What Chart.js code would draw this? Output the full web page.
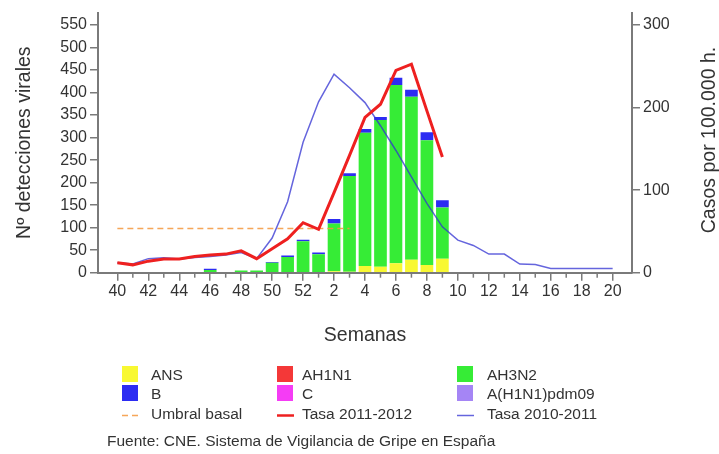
<!DOCTYPE html>
<html>
<head>
<meta charset="utf-8">
<script src="https://cdn.jsdelivr.net/npm/chart.js@4.4.1/dist/chart.umd.min.js"></script>
<style>
  body { margin: 0; background: #fff; }
  canvas { display: block; }
</style>
</head>
<body>
<canvas id="chart" width="719" height="454"></canvas>
<script>
// semanas 40..52 (2011) y 1..20 (2012)
const weeks = [40, 41, 42, 43, 44, 45, 46, 47, 48, 49, 50, 51, 52,
  1, 2, 3, 4, 5, 6, 7, 8, 9, 10, 11, 12, 13, 14, 15, 16, 17, 18, 19, 20];

// detecciones virales (eje izquierdo)
const ans = [0, 0, 0, 0, 0, 0, 0, 0, 0, 0, 0, 0, 0, 0, 3, 2, 15, 13, 21, 29, 17, 31,
  0, 0, 0, 0, 0, 0, 0, 0, 0, 0, 0];
const ah1n1 = [0, 0, 0, 0, 0, 0, 0, 0, 0, 0, 0, 0, 0, 0, 0, 0, 0, 0, 0, 0, 0, 0,
  0, 0, 0, 0, 0, 0, 0, 0, 0, 0, 0];
const ah3n2 = [0, 0, 0, 0, 0, 0, 6, 0, 5, 5, 22, 35, 70, 41, 106, 213, 296, 326, 396, 362, 277, 114,
  0, 0, 0, 0, 0, 0, 0, 0, 0, 0, 0];
const c = [0, 0, 0, 0, 0, 0, 0, 0, 0, 0, 0, 0, 0, 0, 0, 0, 0, 0, 0, 0, 0, 0,
  0, 0, 0, 0, 0, 0, 0, 0, 0, 0, 0];
const pdm09 = [0, 0, 0, 0, 0, 0, 0, 0, 0, 0, 0, 0, 0, 0, 0, 0, 0, 0, 0, 0, 0, 0,
  0, 0, 0, 0, 0, 0, 0, 0, 0, 0, 0];
const b = [0, 0, 0, 0, 0, 0, 3, 0, 0, 0, 2, 3, 3, 4, 10, 6, 8, 7, 16, 15, 18, 16,
  0, 0, 0, 0, 0, 0, 0, 0, 0, 0, 0];

// tasas por 100.000 h. (eje derecho)
const tasa1112 = [12, 9.5, 14, 16.5, 16.5, 19.5, 21.5, 22.5, 26.5, 17, 29, 41, 60.5, 52.5,
  97, 142, 188, 204, 245, 252.5, 196, 140];
const tasa1011 = [12, 10.5, 17, 18, 16.5, 18.5, 19.5, 21.5, 24.5, 17, 42, 86, 158, 207,
  240.5, 224, 206, 178, 148, 116, 84, 55.5, 39.5, 33, 22.5, 22.5, 10.5, 10, 5, 5, 5, 5, 5];
const umbral = [53.5, 53.5, 53.5, 53.5, 53.5, 53.5, 53.5, 53.5, 53.5, 53.5, 53.5, 53.5,
  53.5, 53.5, 53.5, 53.5];

const leftTicks = [0, 50, 100, 150, 200, 250, 300, 350, 400, 450, 500, 550];
const rightTicks = [0, 100, 200, 300];

const FONT = '"Liberation Sans", Arial, sans-serif';
const TEXT = "#333";
const AXIS = "#7a7a7a";

const xy = (arr) => arr.map((v, i) => ({ x: i, y: v }));

// legend is a 3x3 grid, drawn by hand
const legendGrid = [
  ["ANS", "AH1N1", "AH3N2"],
  ["B", "C", "A(H1N1)pdm09"],
  ["Umbral basal", "Tasa 2011-2012", "Tasa 2010-2011"],
];
const legendBoxX = [122, 277, 457];
const legendTextX = [151, 302, 487];
const legendRowY = [374, 393, 413];

const extras = {
  id: "extras",
  afterDraw(chart) {
    const ctx = chart.ctx;
    const xs = chart.scales.x;
    const bottom = chart.chartArea.bottom;
    ctx.save();

    // short ticks for odd weeks
    ctx.strokeStyle = AXIS;
    ctx.lineWidth = 1.5;
    weeks.forEach((w, i) => {
      if (i % 2 === 1) {
        const px = xs.getPixelForValue(i);
        ctx.beginPath();
        ctx.moveTo(px, bottom);
        ctx.lineTo(px, bottom + 5);
        ctx.stroke();
      }
    });

    // right axis title (reads bottom to top)
    ctx.fillStyle = TEXT;
    ctx.font = `19.5px ${FONT}`;
    ctx.textAlign = "center";
    ctx.textBaseline = "middle";
    ctx.save();
    ctx.translate(710, 140);
    ctx.rotate(-Math.PI / 2);
    ctx.fillText("Casos por 100.000 h.", 0, 0);
    ctx.restore();

    // legend
    ctx.font = `15.5px ${FONT}`;
    ctx.textAlign = "left";
    legendGrid.forEach((row, r) => {
      row.forEach((label, col) => {
        const ds = chart.data.datasets.find((d) => d.label === label);
        const x = legendBoxX[col];
        const y = legendRowY[r];
        if (ds.type === "line") {
          ctx.strokeStyle = ds.borderColor;
          ctx.lineWidth = Math.min(ds.borderWidth, 2.5);
          ctx.setLineDash(ds.borderDash || []);
          ctx.beginPath();
          ctx.moveTo(x, y + 2.5);
          ctx.lineTo(x + 17, y + 2.5);
          ctx.stroke();
          ctx.setLineDash([]);
        } else {
          ctx.fillStyle = ds.backgroundColor;
          ctx.fillRect(x, y - 8, 16, 16);
        }
        ctx.fillStyle = TEXT;
        ctx.fillText(label, legendTextX[col], y + 2);
      });
    });

    // source
    ctx.fillText("Fuente: CNE. Sistema de Vigilancia de Gripe en España", 107, 442);
    ctx.restore();
  },
};

const barSet = (label, values, color) => ({
  type: "bar",
  label: label,
  data: xy(values),
  backgroundColor: color,
  borderWidth: 0,
  yAxisID: "y",
  stack: "virus",
  order: 2,
  barPercentage: 0.82,
  categoryPercentage: 1,
});

const config = {
  type: "bar",
  data: {
    datasets: [
      {
        type: "line",
        label: "Tasa 2011-2012",
        data: xy(tasa1112),
        borderColor: "#ee2020",
        borderWidth: 3,
        pointRadius: 0,
        tension: 0,
        yAxisID: "y1",
        order: 0,
      },
      {
        type: "line",
        label: "Tasa 2010-2011",
        data: xy(tasa1011),
        borderColor: "rgba(50, 50, 210, 0.75)",
        borderWidth: 1.5,
        pointRadius: 0,
        tension: 0,
        yAxisID: "y1",
        order: 1,
      },
      {
        type: "line",
        label: "Umbral basal",
        data: xy(umbral),
        borderColor: "rgba(245, 150, 60, 0.85)",
        borderWidth: 1.5,
        borderDash: [6, 4],
        pointRadius: 0,
        tension: 0,
        yAxisID: "y1",
        order: 1,
      },
      barSet("ANS", ans, "#f8f832"),
      barSet("AH1N1", ah1n1, "#f43838"),
      barSet("AH3N2", ah3n2, "#36ec36"),
      barSet("C", c, "#f53cf5"),
      barSet("A(H1N1)pdm09", pdm09, "#a585f5"),
      barSet("B", b, "#2c2cf2"),
    ],
  },
  options: {
    responsive: false,
    animation: false,
    layout: { padding: { top: 11.5, left: 0, right: 0, bottom: 0 } },
    plugins: {
      legend: { display: false },
      tooltip: { enabled: false },
    },
    scales: {
      x: {
        type: "linear",
        min: -1.25,
        max: 33.25,
        bounds: "data",
        offset: false,
        stacked: true,
        afterBuildTicks: (axis) => {
          axis.ticks = weeks.map((w, i) => ({ value: i }));
        },
        afterFit: (scale) => {
          scale.height = 181.3;
        },
        grid: {
          offset: false,
          drawOnChartArea: false,
          tickLength: 8,
          lineWidth: 1.5,
          tickColor: (ctx) => (ctx.index % 2 === 0 ? AXIS : "rgba(0,0,0,0)"),
        },
        border: { color: AXIS, width: 2 },
        ticks: {
          autoSkip: false,
          maxRotation: 0,
          padding: 1,
          color: TEXT,
          font: { size: 16, family: FONT },
          callback: (value, index) => (index % 2 === 0 ? String(weeks[index]) : ""),
        },
        title: {
          display: true,
          text: "Semanas",
          color: TEXT,
          font: { size: 19.5, family: FONT },
          padding: { top: 0, bottom: 107 },
        },
      },
      y: {
        type: "linear",
        position: "left",
        min: 0,
        max: 577.6,
        bounds: "data",
        stacked: true,
        afterBuildTicks: (axis) => {
          axis.ticks = leftTicks.map((v) => ({ value: v }));
        },
        afterFit: (scale) => {
          scale.width = 98;
        },
        grid: { drawOnChartArea: false, tickLength: 8, lineWidth: 1.5, color: AXIS },
        border: { color: AXIS, width: 2 },
        ticks: { padding: 3, color: TEXT, font: { size: 16, family: FONT } },
        title: {
          display: true,
          text: "Nº detecciones virales",
          color: TEXT,
          font: { size: 19.5, family: FONT },
          padding: { top: 13, bottom: 0 },
        },
      },
      y1: {
        type: "linear",
        position: "right",
        min: 0,
        max: 315,
        bounds: "data",
        afterBuildTicks: (axis) => {
          axis.ticks = rightTicks.map((v) => ({ value: v }));
        },
        afterFit: (scale) => {
          scale.width = 87;
        },
        grid: { drawOnChartArea: false, tickLength: 8, lineWidth: 1.5, color: AXIS },
        border: { color: AXIS, width: 2 },
        ticks: { padding: 3, color: TEXT, font: { size: 16, family: FONT } },
      },
    },
  },
  plugins: [extras],
};

const plot = new Chart(document.getElementById("chart"), config);
</script>
</body>
</html>
